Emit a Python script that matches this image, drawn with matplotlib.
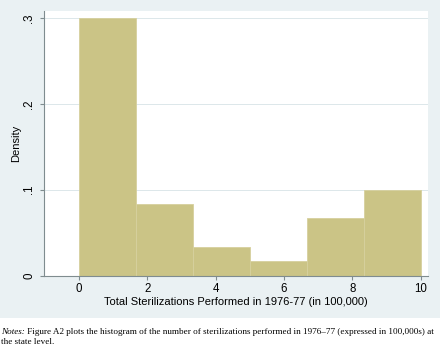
import matplotlib
matplotlib.use("Agg")
import matplotlib.pyplot as plt
from matplotlib.patches import Rectangle

# histogram of sterilizations (in 100,000s), 6 bins on [0, 10]
bin_edges = [0, 10/6, 20/6, 30/6, 40/6, 50/6, 10]
density = [0.3, 0.0833, 0.0333, 0.0167, 0.0667, 0.1]
xticks = [0, 2, 4, 6, 8, 10]
yticks = [0, 0.1, 0.2, 0.3]
ytick_labels = ["0", ".1", ".2", ".3"]

bg = "#EAF1F3"
bar_col = "#CBC486"
axis_col = "#7F8C8F"

plt.rcParams['font.family'] = ['Liberation Sans', 'DejaVu Sans']

fig = plt.figure(figsize=(4.4, 3.52), dpi=100)
fig.patch.set_facecolor("white")
fig.add_artist(Rectangle((0, 1 - 318/352), 1, 318/352, transform=fig.transFigure,
                         facecolor=bg, edgecolor="none", zorder=-10))

ax = fig.add_axes([43.7/440, 1 - 275.5/352, (428 - 43.7)/440, (275.5 - 10.7)/352])
ax.set_facecolor("white")

widths = [bin_edges[i+1] - bin_edges[i] for i in range(len(density))]
ax.bar(bin_edges[:-1], density, width=widths, align='edge', color=bar_col,
       edgecolor="#D6D09E", linewidth=0.6, zorder=2)

ax.set_xlim(-1.03, 10.21)
ax.set_ylim(0, 0.3088)
ax.set_xticks(xticks)
ax.set_yticks(yticks)
ax.set_yticklabels(ytick_labels, rotation=90, va='center')
for v in yticks[1:]:
    ax.axhline(v, color="#DCE7EA", linewidth=0.7, zorder=1)

for s in ["top", "right"]:
    ax.spines[s].set_visible(False)
for s in ["left", "bottom"]:
    ax.spines[s].set_color(axis_col)
    ax.spines[s].set_linewidth(0.8)
ax.tick_params(axis='both', direction='out', length=3, width=0.8, color=axis_col,
               labelsize=8.3)
ax.tick_params(axis='x', pad=2.5)
ax.tick_params(axis='y', pad=3)

ax.set_xlabel("Total Sterilizations Performed in 1976-77 (in 100,000)", fontsize=8, labelpad=1.5)
ax.set_ylabel("Density", fontsize=8, labelpad=1.5)

t = fig.text(1/440, 1 - 334/352, "Notes:", family="Liberation Serif", style="italic",
             fontsize=6.6, va="baseline")
ax.annotate(" Figure A2 plots the histogram of the number of sterilizations performed in 1976\u201377 (expressed in 100,000s) at",
            xy=(1, 0), xycoords=t, va="bottom", ha="left", family="Liberation Serif", fontsize=6.6,
            annotation_clip=False)
fig.text(1/440, 1 - 344/352, "the state level.", family="Liberation Serif", fontsize=6.6,
         va="baseline")

fig.savefig("out.png", dpi=100, facecolor=fig.get_facecolor())
